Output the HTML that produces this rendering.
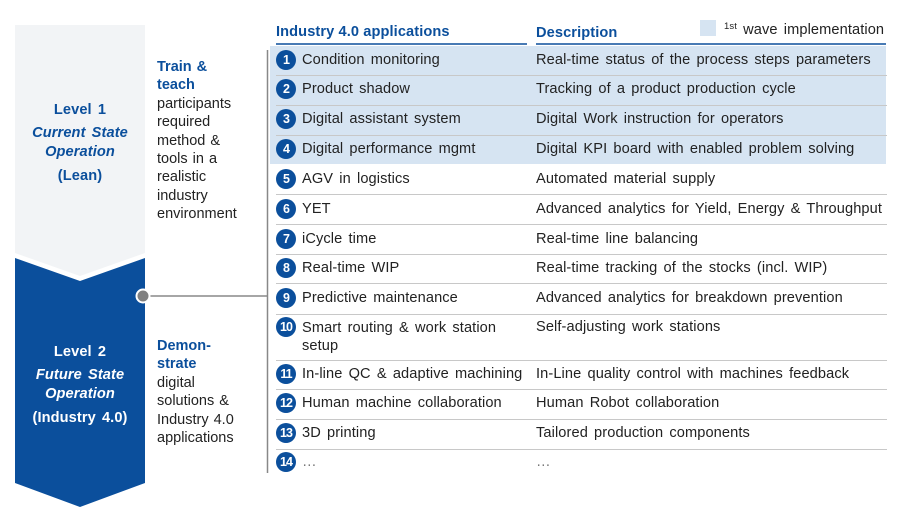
<!DOCTYPE html>
<html><head><meta charset="utf-8"><style>
body{margin:0;width:912px;height:510px;background:#fff;position:relative;overflow:hidden;font-family:"Liberation Sans",Arial,sans-serif;}
.t{position:absolute;white-space:nowrap;font-size:14.6px;word-spacing:2px;letter-spacing:0.1px;color:#222;line-height:16px;}
.b{color:#0b4f9c;font-weight:bold;}
.c{position:absolute;left:276px;width:20px;height:20px;border-radius:50%;background:#0b4f9c;color:#fff;font-weight:bold;font-size:12.5px;line-height:20px;text-align:center;letter-spacing:-1px;}
.sep{position:absolute;height:1px;background:#c8c8c8;}
.mid{position:absolute;left:157px;font-size:14.5px;line-height:18.4px;color:#222;word-spacing:1px;}
</style></head><body>
<svg width="912" height="510" style="position:absolute;left:0;top:0">
<polygon points="15,25 145,25 145,253 80,276 15,253" fill="#f2f4f6"/>
<polygon points="15,258 80,281 145,258 145,483 80,507 15,483" fill="#0b4f9c"/>
<rect x="270" y="46" width="616" height="118" fill="#d6e4f2"/>
<rect x="700" y="20" width="16" height="16" fill="#d6e4f2"/>
<line x1="276" y1="44" x2="527" y2="44" stroke="#0b4f9c" stroke-width="1.5"/>
<line x1="536" y1="44" x2="886" y2="44" stroke="#0b4f9c" stroke-width="1.5"/>
<line x1="267.5" y1="50" x2="267.5" y2="473" stroke="#888" stroke-width="1.5"/>
<line x1="143" y1="296" x2="267" y2="296" stroke="#888" stroke-width="1.5"/>
<circle cx="143" cy="296" r="6.5" fill="#808080" stroke="#fff" stroke-width="2"/>
</svg>
<div class="t b" style="left:0;width:160px;text-align:center;top:102px;">Level 1</div>
<div class="t b" style="left:0;width:160px;text-align:center;top:125px;font-style:italic">Current State</div>
<div class="t b" style="left:0;width:160px;text-align:center;top:144px;font-style:italic">Operation</div>
<div class="t b" style="left:0;width:160px;text-align:center;top:168px;">(Lean)</div>
<div class="t b" style="left:0;width:160px;text-align:center;top:344px;color:#fff">Level 2</div>
<div class="t b" style="left:0;width:160px;text-align:center;top:367px;color:#fff;font-style:italic">Future State</div>
<div class="t b" style="left:0;width:160px;text-align:center;top:386px;color:#fff;font-style:italic">Operation</div>
<div class="t b" style="left:0;width:160px;text-align:center;top:410px;color:#fff">(Industry 4.0)</div>
<div class="mid" style="top:58px"><span class="b">Train &amp;<br>teach</span><br>participants<br>required<br>method &amp;<br>tools in a<br>realistic<br>industry<br>environment</div>
<div class="mid" style="top:337px"><span class="b">Demon-<br>strate</span><br>digital<br>solutions &amp;<br>Industry 4.0<br>applications</div>
<div class="t b" style="left:276px;top:24px;word-spacing:0">Industry 4.0 applications</div>
<div class="t b" style="left:536px;top:25px">Description</div>
<div class="t" style="left:724px;top:19px;font-size:14.6px;word-spacing:2px"><span style="font-size:9.5px;vertical-align:5px">1st</span> wave implementation</div>

<div class="sep" style="left:276px;width:611px;top:75px"></div>
<div class="sep" style="left:276px;width:611px;top:105px"></div>
<div class="sep" style="left:276px;width:611px;top:135px"></div>
<div class="sep" style="left:276px;width:611px;top:194px"></div>
<div class="sep" style="left:276px;width:611px;top:224px"></div>
<div class="sep" style="left:276px;width:611px;top:254px"></div>
<div class="sep" style="left:276px;width:611px;top:283px"></div>
<div class="sep" style="left:276px;width:611px;top:314px"></div>
<div class="sep" style="left:276px;width:611px;top:360px"></div>
<div class="sep" style="left:276px;width:611px;top:389px"></div>
<div class="sep" style="left:276px;width:611px;top:419px"></div>
<div class="sep" style="left:276px;width:611px;top:449px"></div>

<div class="c" style="top:50px">1</div><div class="t" style="left:302px;top:52px">Condition monitoring</div><div class="t" style="left:536px;top:52px">Real-time status of the process steps parameters</div>
<div class="c" style="top:79px">2</div><div class="t" style="left:302px;top:81px">Product shadow</div><div class="t" style="left:536px;top:81px">Tracking of a product production cycle</div>
<div class="c" style="top:109px">3</div><div class="t" style="left:302px;top:111px">Digital assistant system</div><div class="t" style="left:536px;top:111px">Digital Work instruction for operators</div>
<div class="c" style="top:139px">4</div><div class="t" style="left:302px;top:141px">Digital performance mgmt</div><div class="t" style="left:536px;top:141px">Digital KPI board with enabled problem solving</div>
<div class="c" style="top:169px">5</div><div class="t" style="left:302px;top:171px">AGV in logistics</div><div class="t" style="left:536px;top:171px">Automated material supply</div>
<div class="c" style="top:199px">6</div><div class="t" style="left:302px;top:201px">YET</div><div class="t" style="left:536px;top:201px">Advanced analytics for Yield, Energy &amp; Throughput</div>
<div class="c" style="top:229px">7</div><div class="t" style="left:302px;top:231px">iCycle time</div><div class="t" style="left:536px;top:231px">Real-time line balancing</div>
<div class="c" style="top:258px">8</div><div class="t" style="left:302px;top:260px">Real-time WIP</div><div class="t" style="left:536px;top:260px">Real-time tracking of the stocks (incl. WIP)</div>
<div class="c" style="top:288px">9</div><div class="t" style="left:302px;top:290px">Predictive maintenance</div><div class="t" style="left:536px;top:290px">Advanced analytics for breakdown prevention</div>
<div class="c" style="top:317px">10</div><div class="t" style="left:302px;top:319px;line-height:18px">Smart routing &amp; work station<br>setup</div><div class="t" style="left:536px;top:319px">Self-adjusting work stations</div>
<div class="c" style="top:364px">11</div><div class="t" style="left:302px;top:366px">In-line QC &amp; adaptive machining</div><div class="t" style="left:536px;top:366px">In-Line quality control with machines feedback</div>
<div class="c" style="top:393px">12</div><div class="t" style="left:302px;top:395px">Human machine collaboration</div><div class="t" style="left:536px;top:395px">Human Robot collaboration</div>
<div class="c" style="top:423px">13</div><div class="t" style="left:302px;top:425px">3D printing</div><div class="t" style="left:536px;top:425px">Tailored production components</div>
<div class="c" style="top:452px">14</div><div class="t" style="left:302px;top:454px;color:#777">…</div><div class="t" style="left:536px;top:454px;color:#777">…</div>
</body></html>
